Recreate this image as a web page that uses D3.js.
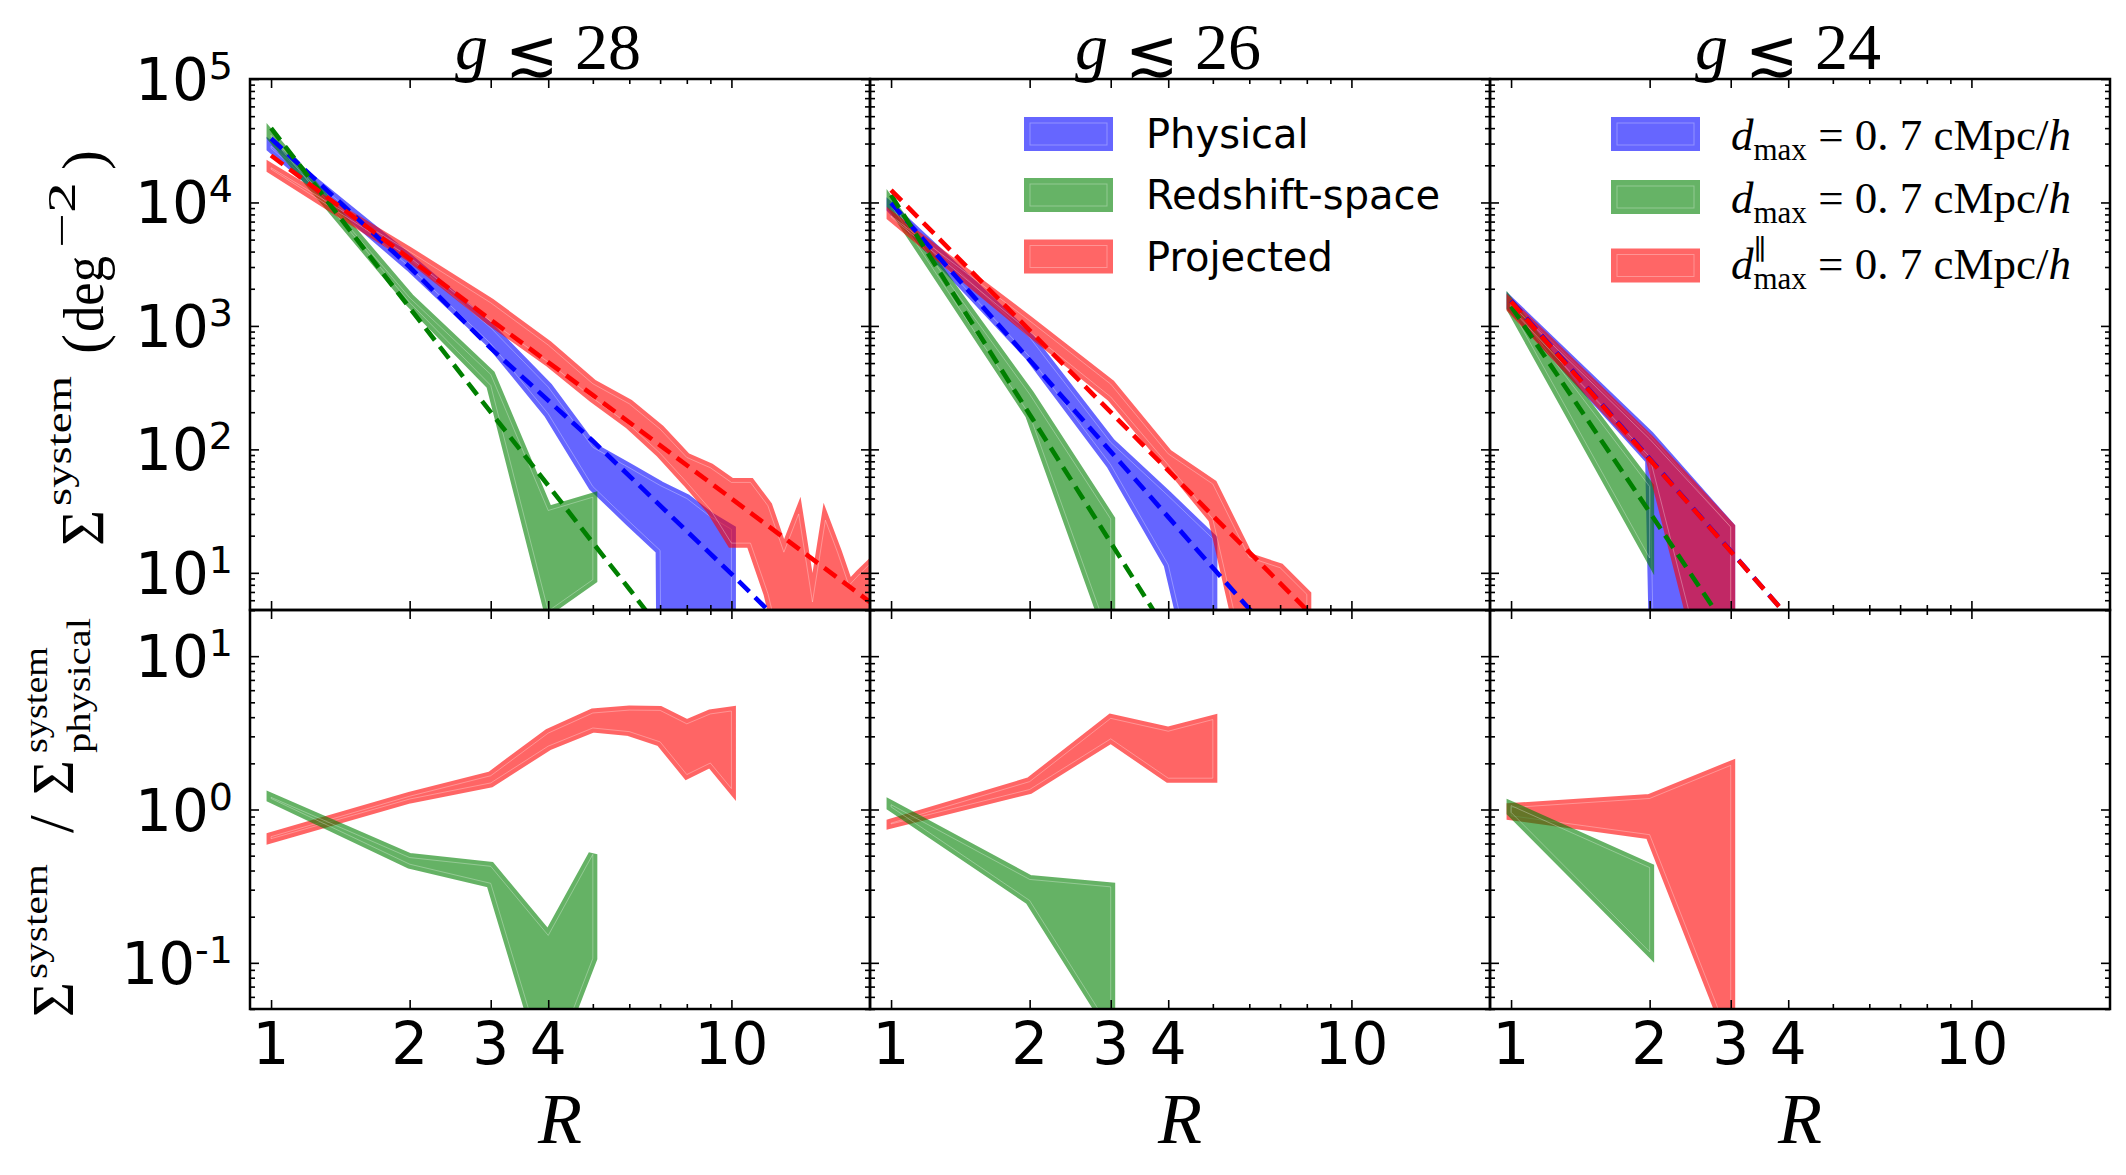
<!DOCTYPE html>
<html>
<head>
<meta charset="utf-8">
<script src="https://cdn.jsdelivr.net/npm/d3@7"></script>
<style>
	body { margin: 0; background: #fff; }
	svg { display: block; }
	text { white-space: pre; }
</style>
</head>
<body>
<svg id="fig" width="2126" height="1175"></svg>
<script>
// ---------- data ----------
const mags = [28, 26, 24];

// g < 28 : surface density bands (upper / lower)
const rPhys28 = [1, 2, 3, 4, 5, 6, 7, 8, 9, 10];
const physHi28 = [28500, 3500, 965, 320, 104, 71, 51, 40, 28.5, 22.5];
const physLo28 = [27500, 3000, 720, 194, 50, 26, 15.2, 0, 0, 0];
const rRsd28 = [1, 2, 3, 4, 5];
const rsdHi28 = [35000, 1690, 405, 32, 41];
const rsdLo28 = [34000, 1550, 330, 4.9, 8.8];
const rProj28 = [1, 2, 3, 4, 5, 6, 7, 8, 9, 10, 11, 12, 13, 14, 15, 16, 17, 18, 19, 20];
const projHi28 = [19100, 4000, 1540, 700, 340, 234, 146, 86, 71, 54, 54, 35, 14.7, 30, 5.8, 26.7, 14.7, 7.9, 9.8, 11.8];
const projLo28 = [18600, 3600, 1090, 510, 260, 158, 93, 54, 32.6, 17.4, 17.4, 6.8, 2, 2, 2, 2, 2, 2, 2, 2];
// g < 28 : ratio bands
const rRatioProj28 = [1, 2, 3, 4, 5, 6, 7, 8, 9, 10];
const ratioProjHi28 = [0.665, 1.22, 1.66, 3.15, 4.26, 4.45, 4.43, 3.62, 4.2, 4.39];
const ratioProjLo28 = [0.645, 1.17, 1.49, 2.59, 3.4, 3.22, 2.76, 1.69, 2.01, 1.37];
const rRatioRsd28 = [1, 2, 3, 4, 5];
const ratioRsdHi28 = [1.2, 0.486, 0.426, 0.151, 0.51];
const ratioRsdLo28 = [1.18, 0.44, 0.33, 0.0187, 0.107];
// g < 28 : dashed fits
const fitRPhys28 = [1, 2, 3, 5, 10, 12];
const fitPhys28 = [33000, 3000, 660, 117, 9.8, 5.0];
const fitRRsd28 = [1, 2, 3, 4, 5, 6, 7];
const fitRsd28 = [40000, 1400, 200, 51, 17.5, 7.4, 3.5];
const fitRProj28 = [1, 2, 3, 5, 10, 20];
const fitProj28 = [24000, 3500, 1120, 275, 40, 5.8];

// g < 26
const rPhys26 = [1, 2, 3, 4, 5];
const physHi26 = [9100, 807, 114, 42, 18.9];
const physLo26 = [8900, 563, 75, 11.6, 0.33];
const rRsd26 = [1, 2, 3];
const rsdHi26 = [9940, 280, 27.3];
const rsdLo26 = [9480, 190, 2.8];
const rProj26 = [1, 2, 3, 4, 5, 6, 7, 8];
const projHi26 = [7780, 1100, 338, 92, 52.4, 13.3, 11, 6.7];
const projLo26 = [7630, 896, 266, 75, 27.2, 1.4, 1, 1];
const rRatioProj26 = [1, 2, 3, 4, 5];
const ratioProjHi26 = [0.815, 1.52, 3.93, 3.24, 3.86];
const ratioProjLo26 = [0.805, 1.35, 2.89, 1.6, 1.6];
const rRatioRsd26 = [1, 2, 3];
const ratioRsdHi26 = [1.075, 0.35, 0.313];
const ratioRsdLo26 = [1.04, 0.255, 0.037];
const fitRPhys26 = [1, 2, 3, 5, 6, 7];
const fitPhys26 = [9900, 530, 96, 11, 5.1, 2.7];
const fitRRsd26 = [1, 2, 3, 4];
const fitRsd26 = [11500, 192, 17.6, 3.2];
const fitRProj26 = [1, 2, 3, 5, 8, 10];
const fitProj26 = [12600, 920, 200, 29, 5, 2.1];

// g < 24
const rPhys24 = [1, 2, 3];
const physHi24 = [1555, 130, 23.5];
const physLo24 = [1424, 82, 0];
const rRsd24 = [1, 2];
const rsdHi24 = [1500, 50];
const rsdLo24 = [1380, 13.2];
const rProj24 = [1, 2, 3];
const projHi24 = [1500, 121, 23.5];
const projLo24 = [1380, 87, 0.23];
const rRatioProj24 = [1, 2, 3];
const ratioProjHi24 = [1.03, 1.18, 1.94];
const ratioProjLo24 = [0.91, 0.685, 0.031];
const rRatioRsd24 = [1, 2];
const ratioRsdHi24 = [1.06, 0.418];
const ratioRsdLo24 = [0.958, 0.118];
const fitRPhys24 = [1, 2, 3, 4];
const fitPhys24 = [1600, 84, 15, 4.4];
const fitRRsd24 = [1, 2, 3];
const fitRsd24 = [1440, 31, 3.2];
const fitRProj24 = [1, 2, 3, 4];
const fitProj24 = [1580, 83, 14.9, 4.4];

// axis ticks
const xMajor = [1, 2, 3, 4, 10];
const xMinor = [5, 6, 7, 8, 9];
const yTopMajor = [10, 100, 1e3, 1e4, 1e5];
const yBotMajor = [0.1, 1, 10];
const legendNames = ["Physical", "Redshift-space", "Projected"];

// ---------- layout ----------
const colLeft = [250, 870, 1490], colW = 620;
const topRange = [79, 610], botRange = [610, 1009];
const COL = { phys: "#0000ff", rsd: "#008000", proj: "#ff0000" };

const x = d3.scaleLog().domain([0.9, 20]).range([0, colW]);
const yTop = d3.scaleLog().domain([5, 1e5]).range([topRange[1], topRange[0]]);
const yBot = d3.scaleLog().domain([0.05, 20]).range([botRange[1], botRange[0]]);

const panels = [
	{
		top: [
			[rPhys28, physHi28, physLo28, COL.phys],
			[rRsd28, rsdHi28, rsdLo28, COL.rsd],
			[rProj28, projHi28, projLo28, COL.proj]
		],
		fits: [
			[fitRPhys28, fitPhys28, COL.phys],
			[fitRRsd28, fitRsd28, COL.rsd],
			[fitRProj28, fitProj28, COL.proj]
		],
		bot: [
			[rRatioProj28, ratioProjHi28, ratioProjLo28, COL.proj],
			[rRatioRsd28, ratioRsdHi28, ratioRsdLo28, COL.rsd]
		]
	},
	{
		top: [
			[rPhys26, physHi26, physLo26, COL.phys],
			[rRsd26, rsdHi26, rsdLo26, COL.rsd],
			[rProj26, projHi26, projLo26, COL.proj]
		],
		fits: [
			[fitRPhys26, fitPhys26, COL.phys],
			[fitRRsd26, fitRsd26, COL.rsd],
			[fitRProj26, fitProj26, COL.proj]
		],
		bot: [
			[rRatioProj26, ratioProjHi26, ratioProjLo26, COL.proj],
			[rRatioRsd26, ratioRsdHi26, ratioRsdLo26, COL.rsd]
		]
	},
	{
		top: [
			[rPhys24, physHi24, physLo24, COL.phys],
			[rRsd24, rsdHi24, rsdLo24, COL.rsd],
			[rProj24, projHi24, projLo24, COL.proj]
		],
		fits: [
			[fitRPhys24, fitPhys24, COL.phys],
			[fitRRsd24, fitRsd24, COL.rsd],
			[fitRProj24, fitProj24, COL.proj]
		],
		bot: [
			[rRatioProj24, ratioProjHi24, ratioProjLo24, COL.proj],
			[rRatioRsd24, ratioRsdHi24, ratioRsdLo24, COL.rsd]
		]
	}
];

const svg = d3.select("#fig");
const defs = svg.append("defs");

// zero lower bounds drop straight down like matplotlib's log clipping
const safe = v => Math.max(v, 1e-30);

function drawBand(g, rs, hi, lo, col, yS) {
	const rows = rs.map((r, i) => ({ r: r, hi: hi[i], lo: lo[i] }));
	const area = d3.area()
		.x(d => x(d.r))
		.y0(d => yS(safe(d.lo)))
		.y1(d => yS(safe(d.hi)));
	g.append("path")
		.attr("d", area(rows))
		.attr("fill", col)
		.attr("stroke", col)
		.attr("stroke-width", 9)
		.attr("stroke-linejoin", "miter")
		.attr("opacity", 0.6);
	// faint light edge line seen inside every band
	g.append("path")
		.attr("d", area(rows))
		.attr("fill", "none")
		.attr("stroke", "#fff")
		.attr("stroke-opacity", 0.3)
		.attr("stroke-width", 1);
}

function drawFit(g, rs, vals, col, yS) {
	const line = d3.line().x((d, i) => x(rs[i])).y(d => yS(d));
	g.append("path")
		.attr("d", line(vals))
		.attr("fill", "none")
		.attr("stroke", col)
		.attr("stroke-width", 4.6)
		.attr("stroke-dasharray", "15,8");
}

function drawTicks(g, yS, yMajor, y0, y1) {
	const yMinor = yS.ticks().filter(v => !yMajor.some(m => Math.abs(m - v) / m < 1e-6));
	const specs = [
		[d3.axisBottom(x), `translate(0,${y1})`, xMajor, xMinor],
		[d3.axisTop(x), `translate(0,${y0})`, xMajor, xMinor],
		[d3.axisLeft(yS), `translate(0,0)`, yMajor, yMinor],
		[d3.axisRight(yS), `translate(${colW},0)`, yMajor, yMinor]
	];
	specs.forEach(([ax, tr, major, minor]) => {
		[[major, -9], [minor, -5]].forEach(([vals, size]) => {
			const a = g.append("g")
				.attr("transform", tr)
				.call(ax.tickValues(vals).tickSize(size).tickSizeOuter(0).tickFormat(""));
			a.select(".domain").remove();
			a.selectAll("line").attr("stroke", "#000").attr("stroke-width", 1.6);
		});
	});
}

panels.forEach((p, pi) => {
	const g = svg.append("g").attr("transform", `translate(${colLeft[pi]},0)`);

	// clip paths for the two subplots
	["t", "b"].forEach((k, j) => {
		const rg = j === 0 ? topRange : botRange;
		defs.append("clipPath").attr("id", `clip${k}${pi}`)
			.append("rect").attr("x", 0).attr("y", rg[0]).attr("width", colW).attr("height", rg[1] - rg[0]);
	});

	const gt = g.append("g").attr("clip-path", `url(#clipt${pi})`);
	p.top.forEach(b => drawBand(gt, b[0], b[1], b[2], b[3], yTop));
	p.fits.forEach(f => drawFit(gt, f[0], f[1], f[2], yTop));

	const gb = g.append("g").attr("clip-path", `url(#clipb${pi})`);
	p.bot.forEach(b => drawBand(gb, b[0], b[1], b[2], b[3], yBot));

	drawTicks(g, yTop, yTopMajor, topRange[0], topRange[1]);
	drawTicks(g, yBot, yBotMajor, botRange[0], botRange[1]);

	// frames
	[topRange, botRange].forEach(rg => {
		g.append("rect")
			.attr("x", 0).attr("y", rg[0])
			.attr("width", colW).attr("height", rg[1] - rg[0])
			.attr("fill", "none").attr("stroke", "#000").attr("stroke-width", 2.5);
	});

	// title g <~ mag
	const tt = g.append("text")
		.attr("x", colW / 2 - 12).attr("y", 69)
		.attr("text-anchor", "middle")
		.style("font-family", "'Liberation Serif', 'DejaVu Serif', serif")
		.style("font-size", "66px");
	tt.append("tspan").style("font-style", "italic").text("g ");
	tt.append("tspan")
		.style("font-family", "'DejaVu Serif', serif")
		.style("font-size", "64px")
		.attr("dy", 6).text("\u2272");
	tt.append("tspan").attr("dy", -6).text(" " + mags[pi]);

	// x tick labels
	xMajor.forEach(v => {
		g.append("text")
			.attr("x", x(v)).attr("y", 1064)
			.attr("text-anchor", "middle")
			.style("font-family", "'DejaVu Sans', sans-serif")
			.style("font-size", "58px")
			.text(String(v));
	});

	// x label
	g.append("text")
		.attr("x", colW / 2).attr("y", 1143)
		.attr("text-anchor", "middle")
		.style("font-family", "'Liberation Serif', 'DejaVu Serif', serif")
		.style("font-style", "italic")
		.style("font-size", "72px")
		.text("R");

	// y tick labels on the first column only
	if (pi === 0) {
		[[yTop, yTopMajor], [yBot, yBotMajor]].forEach(([yS, vals]) => {
			vals.forEach(v => {
				const t = g.append("text")
					.attr("x", -17).attr("y", yS(v) + 21)
					.attr("text-anchor", "end")
					.style("font-family", "'DejaVu Sans', sans-serif");
				t.append("tspan").style("font-size", "58px").text("10");
				t.append("tspan").style("font-size", "38px").attr("dy", -21)
					.text(String(Math.round(Math.log10(v))));
			});
		});
	}
});

// ---------- legends ----------
const legCols = [COL.phys, COL.rsd, COL.proj];
function patch(gx, px, cy, col) {
	gx.append("rect")
		.attr("x", px).attr("y", cy - 17).attr("width", 89).attr("height", 34)
		.attr("fill", col).attr("opacity", 0.6);
	gx.append("rect")
		.attr("x", px + 6).attr("y", cy - 11).attr("width", 77).attr("height", 22)
		.attr("fill", "none").attr("stroke", "#fff").attr("stroke-opacity", 0.3).attr("stroke-width", 1);
}

const lg2 = svg.append("g").attr("transform", `translate(${colLeft[1]},0)`);
[134, 195, 256.5].forEach((cy, i) => {
	patch(lg2, 154, cy, legCols[i]);
	lg2.append("text")
		.attr("x", 276).attr("y", cy + 14)
		.style("font-family", "'DejaVu Sans', sans-serif")
		.style("font-size", "40px")
		.text(legendNames[i]);
});

const lg3 = svg.append("g").attr("transform", `translate(${colLeft[2]},0)`);
[134, 197, 265.5].forEach((cy, i) => {
	patch(lg3, 121, cy, legCols[i]);
	const t = lg3.append("text")
		.attr("x", 241).attr("y", cy + (i === 2 ? 13 : 16))
		.style("font-family", "'Liberation Serif', 'DejaVu Serif', serif")
		.style("font-size", "45px");
	t.append("tspan").style("font-style", "italic").text("d");
	if (i === 2) {
		t.append("tspan").attr("dy", -20).style("font-size", "28px").text("\u2225");
		t.append("tspan").attr("dx", -13).attr("dy", 30).style("font-size", "31px").text("max");
	} else {
		t.append("tspan").attr("dy", 10).style("font-size", "31px").text("max");
	}
	t.append("tspan").attr("dy", -10).text(" = 0. 7 cMpc/");
	t.append("tspan").style("font-style", "italic").text("h");
});

// ---------- rotated y labels ----------
function rotLabel(tx, ty, pieces) {
	const g = svg.append("g").attr("transform", `translate(${tx},${ty}) rotate(-90)`);
	pieces.forEach(pc => {
		const t = g.append("text")
			.attr("x", pc.x).attr("y", pc.y)
			.style("font-family", "'Liberation Serif', 'DejaVu Serif', serif")
			.style("font-size", pc.size + "px")
			.text(pc.t);
		if (pc.len) t.attr("textLength", pc.len).attr("lengthAdjust", "spacingAndGlyphs");
	});
}
rotLabel(103, 546, [
	{ t: "\u03A3", size: 62, x: 0, y: 0 },
	{ t: "system", size: 36, x: 40, y: -32, len: 130 },
	{ t: "(", size: 60, x: 192, y: 0 },
	{ t: "deg", size: 56, x: 214, y: 0, len: 76 },
	{ t: "\u22122", size: 40, x: 298, y: -28, len: 66 },
	{ t: ")", size: 60, x: 376, y: 0 }
]);
rotLabel(73, 1017, [
	{ t: "\u03A3", size: 60, x: 0, y: 0 },
	{ t: "system", size: 34, x: 38, y: -26, len: 115 },
	{ t: "/", size: 64, x: 184, y: 0 },
	{ t: "\u03A3", size: 60, x: 222, y: 0 },
	{ t: "system", size: 34, x: 264, y: -26, len: 106 },
	{ t: "physical", size: 34, x: 264, y: 17, len: 135 }
]);
</script>
</body>
</html>
